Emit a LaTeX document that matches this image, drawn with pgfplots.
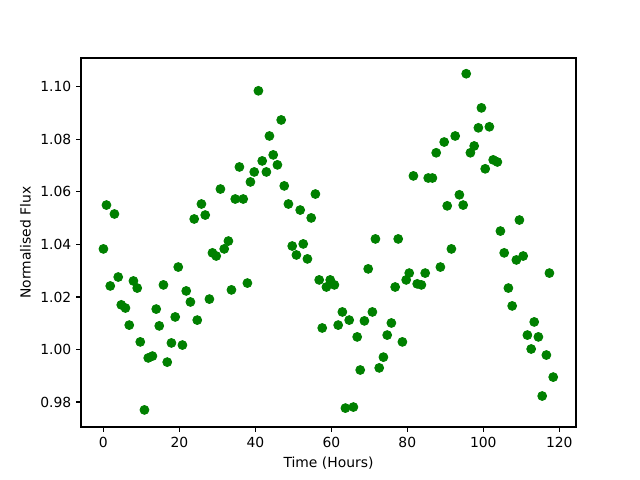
\documentclass[border=0pt]{standalone}
\usepackage{pgfplots}
\pgfplotsset{compat=1.18}
\usepackage{fontspec}
\setmainfont{DejaVu Sans}
\definecolor{mplgreen}{RGB}{0,128,0}
\begin{document}
\fontsize{10}{12}\selectfont
\begin{tikzpicture}
\path (0,0) rectangle (460.8pt,345.6pt);
\begin{axis}[
  at={(58.32pt,38.16pt)}, anchor=south west,
  scale only axis, width=356.4pt, height=265.7pt,
  xmin=-5.9, xmax=124.4, ymin=0.9705, ymax=1.111,
  xtick={0,20,40,60,80,100,120},
  ytick={0.98,1.00,1.02,1.04,1.06,1.08,1.10},
  yticklabel style={/pgf/number format/.cd,fixed,fixed zerofill,precision=2},
  /pgf/number format/assume math mode=true,
  tick align=outside, major tick length=3.5pt,
  xtick pos=bottom, ytick pos=left,
  tick label style={font=\fontsize{10}{12}\selectfont},
  label style={font=\fontsize{10}{12}\selectfont},
  xlabel={Time (Hours)}, ylabel={Normalised Flux},
  axis line style={line width=0.8pt},
  every tick/.style={line width=0.8pt, black},
]
\addplot[only marks, mark=*, mark size=3.2pt, mark options={fill=mplgreen, draw=mplgreen, line width=0.6pt}] coordinates {
(0,1.0383)(0.8,1.055)(1.8,1.0242)(2.9,1.0516)(3.9,1.0276)(4.7,1.0170)(5.8,1.0158)(6.8,1.0093)(7.9,1.0261)(8.9,1.0234)
(9.7,1.0029)(10.8,0.977)(11.8,0.9968)(12.9,0.9975)(13.9,1.0154)(14.7,1.009)(15.8,1.0246)(16.8,0.9952)(17.9,1.0025)(18.9,1.0124)
(19.7,1.0314)(20.8,1.0017)(21.8,1.0223)(22.9,1.0181)(23.9,1.0497)(24.7,1.0112)(25.8,1.0554)(26.8,1.0512)(27.9,1.0192)(28.7,1.0368)
(29.7,1.0356)(30.8,1.0611)(31.8,1.0383)(32.9,1.0413)(33.7,1.0227)(34.7,1.0573)(35.8,1.0695)(36.8,1.0573)(37.9,1.0253)(38.7,1.0638)
(39.7,1.0676)(40.8,1.0985)(41.8,1.0718)(42.9,1.0676)(43.7,1.0813)(44.7,1.0741)(45.8,1.0703)(46.8,1.0874)(47.6,1.0623)(48.7,1.0554)
(49.7,1.0394)(50.8,1.036)(51.8,1.0531)(52.6,1.0402)(53.7,1.0345)(54.7,1.0501)(55.8,1.0592)(56.8,1.0265)(57.6,1.0082)(58.7,1.0238)
(59.7,1.0265)(60.8,1.0246)(61.8,1.0093)(62.9,1.0143)(63.7,0.9777)(64.7,1.0112)(65.8,0.9781)(66.8,1.0048)(67.6,0.9922)(68.7,1.0109)
(69.7,1.0307)(70.8,1.0143)(71.6,1.0421)(72.6,0.993)(73.7,0.9971)(74.7,1.0055)(75.8,1.0101)(76.8,1.0238)(77.6,1.0421)(78.7,1.0029)
(79.7,1.0265)(80.5,1.0291)(81.6,1.0661)(82.6,1.025)(83.7,1.0246)(84.7,1.0291)(85.5,1.0653)(86.6,1.0653)(87.6,1.0749)(88.7,1.0314)
(89.7,1.079)(90.5,1.0547)(91.6,1.0383)(92.6,1.0813)(93.7,1.0589)(94.7,1.055)(95.5,1.105)(96.6,1.0749)(97.6,1.0775)(98.7,1.0844)
(99.5,1.092)(100.5,1.0688)(101.6,1.0848)(102.6,1.0722)(103.7,1.0714)(104.5,1.0451)(105.5,1.0368)(106.6,1.0234)(107.6,1.0166)(108.7,1.0341)
(109.5,1.0493)(110.5,1.0356)(111.6,1.0055)(112.6,1.0002)(113.4,1.0105)(114.5,1.0048)(115.5,0.9823)(116.6,0.9979)(117.4,1.0291)(118.4,0.9895)
};
\end{axis}
\end{tikzpicture}
\end{document}
